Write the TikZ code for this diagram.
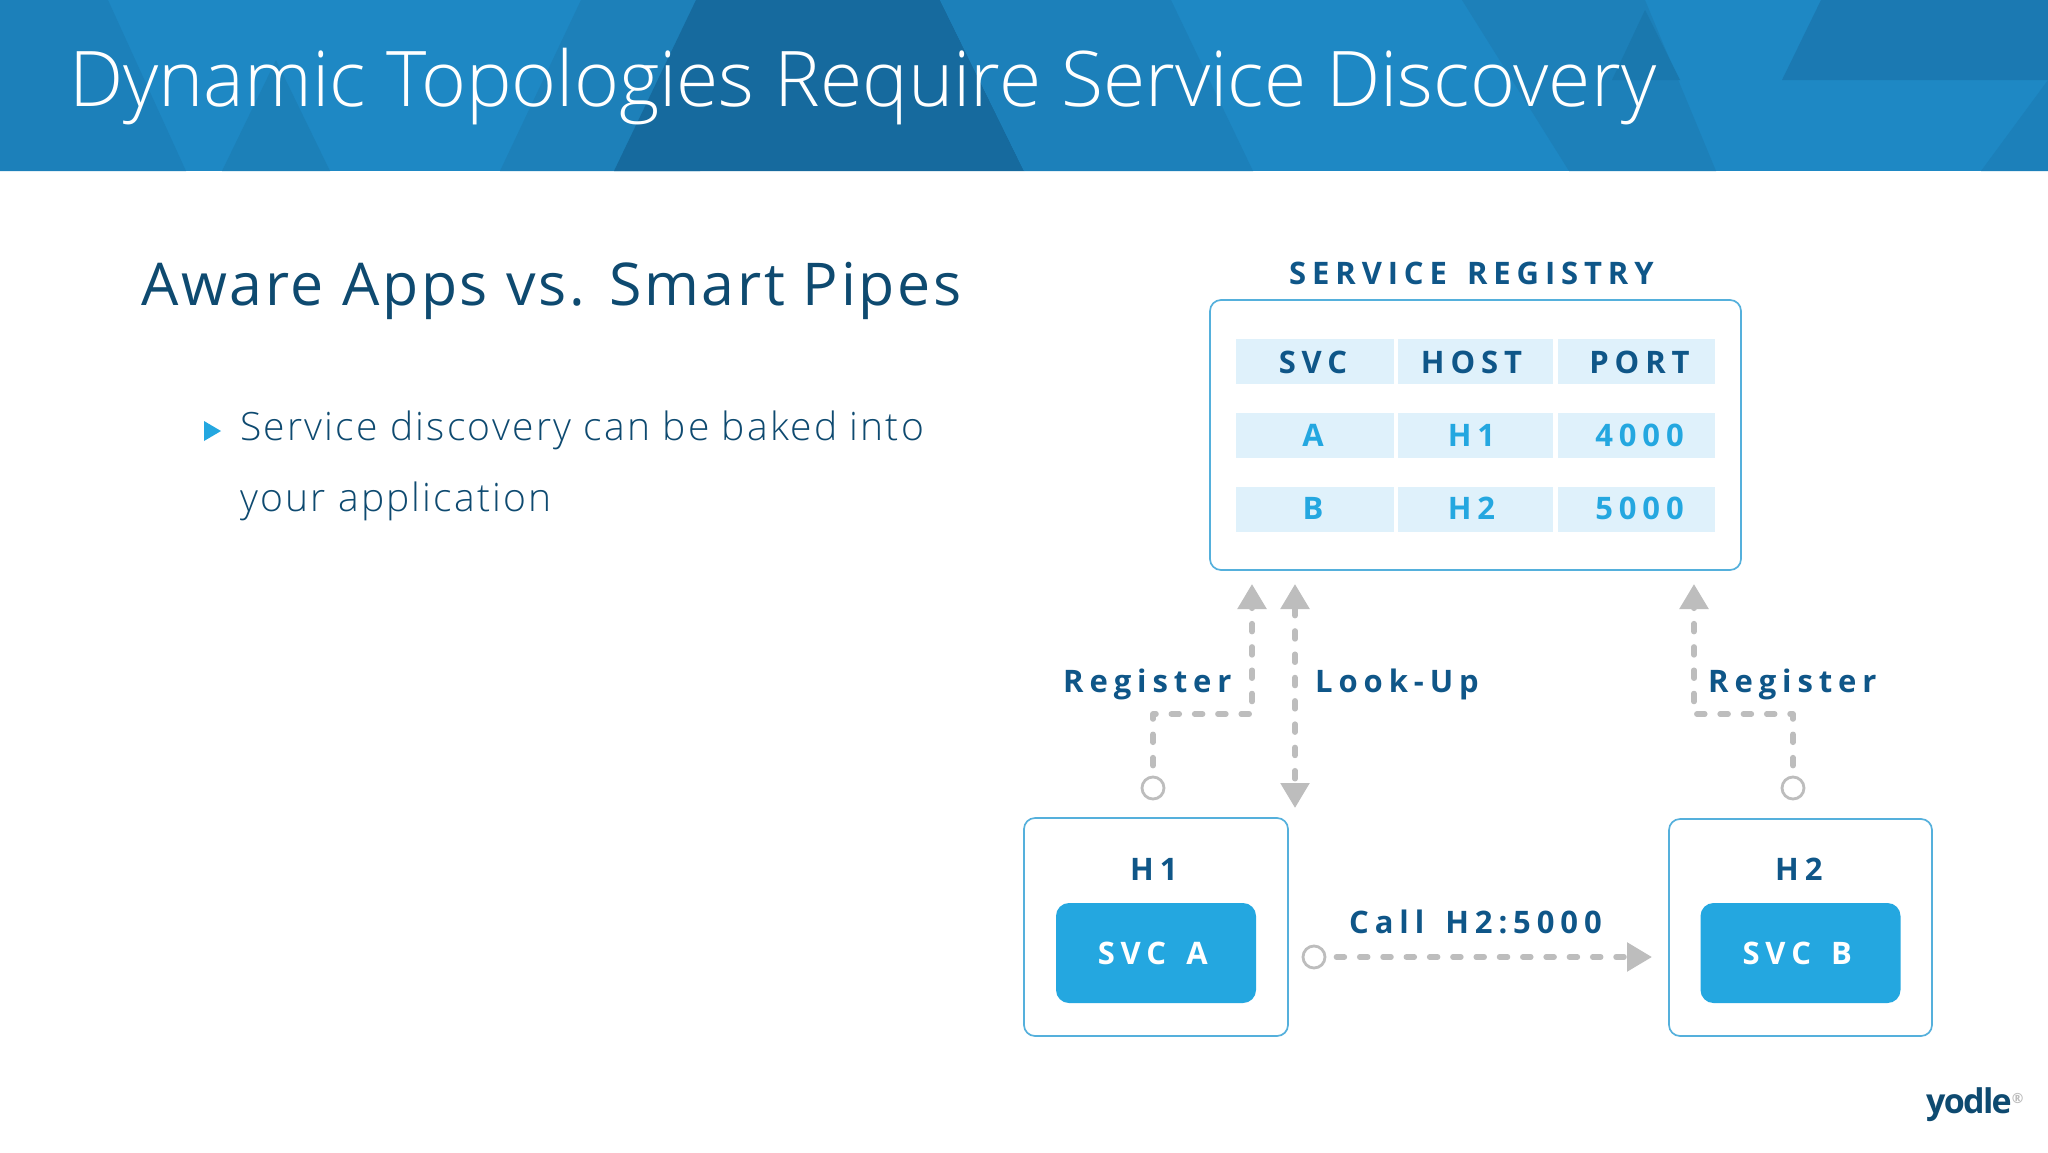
\documentclass[tikz,border=0pt]{standalone}
\usepackage{fontspec}
\usetikzlibrary{arrows.meta}
\setmainfont{Open Sans}
\newfontfamily\lightf{Open Sans Light}
\newfontfamily\lightsp[LetterSpace=5.7]{Open Sans Light}
\newfontfamily\subf[LetterSpace=4.6]{Open Sans}
\newfontfamily\lab[LetterSpace=19]{Open Sans}
\newfontfamily\logof[LetterSpace=-5]{Open Sans}
\newcommand{\fs}[1]{\fontsize{#1}{#1}\selectfont}
\definecolor{navy}{HTML}{0F5688}
\definecolor{deep}{HTML}{0E4A70}
\definecolor{sky}{HTML}{24A7E0}
\definecolor{cellc}{HTML}{DFF1FB}
\definecolor{edgec}{HTML}{55B0DC}
\definecolor{greyc}{HTML}{BDBDBD}
\definecolor{bannerc}{HTML}{1E88C4}
\definecolor{bandA}{HTML}{1C80BA}
\definecolor{bandB}{HTML}{1C80B8}
\definecolor{bandC}{HTML}{1D80B9}
\definecolor{bandD}{HTML}{166A9E}
\definecolor{bandE}{HTML}{1A78AE}
\definecolor{bandF}{HTML}{1B79B2}
\begin{document}
\begin{tikzpicture}[x=1pt,y=-1pt,
  txt/.style={inner sep=0pt,anchor=base west},
  lbl/.style={txt,font=\lab\bfseries\fs{31},text=navy},
  cell/.style={fill=cellc,inner sep=0pt,minimum height=45pt,text height=22pt,text depth=0pt,font=\lab\bfseries\fs{31}},
  head/.style={cell,text=navy},
  val/.style={cell,text=sky},
  frame/.style={draw=edgec,line width=1.7pt,fill=white,rounded corners=11pt,inner sep=0pt},
  svcbox/.style={fill=sky,rounded corners=13pt,inner sep=0pt,text=white,minimum height=100pt,minimum width=200pt,text height=22pt,text depth=0pt,font=\lab\bfseries\fs{31}},
  port/.style={circle,draw=greyc,line width=2.8pt,fill=white,inner sep=0pt,minimum size=22pt},
  link/.style={draw=greyc,line width=5.5pt,line cap=round,line join=round,dash pattern=on 8pt off 15.3pt,shorten <=10pt,-{Triangle[length=25pt,width=28pt,fill=greyc]}},
  twoway/.style={link,shorten <=0pt,{Triangle[length=25pt,width=28pt,fill=greyc]}-{Triangle[length=25pt,width=28pt,fill=greyc]}}
]
\useasboundingbox (0,0) rectangle (2048,1152);
\fill[white] (0,0) rectangle (2048,1152);
% banner
\fill[bannerc] (0,0) rectangle (2048,171);
\fill[bandA] (0,0) -- (108,0) -- (186,171) -- (0,171) -- cycle;
\fill[bandB] (222,171) -- (276,60) -- (330,171) -- cycle;
\fill[bandC] (581,0) -- (500,171) -- (700,171) -- (780,0) -- cycle;
\fill[bandD] (696,0) -- (940,0) -- (1024,171) -- (614,171) -- cycle;
\fill[bandA] (940,0) -- (1171,0) -- (1253,171) -- (1024,171) -- cycle;
\fill[bandC] (1462,0) -- (1645,0) -- (1716,171) -- (1569,171) -- cycle;
\fill[bandE] (1645,10) -- (1680,80) -- (1612,80) -- cycle;
\fill[bandF] (1821,0) -- (2048,0) -- (2048,80) -- (1782,80) -- cycle;
\fill[bandA] (2048,80) -- (2048,171) -- (1981,171) -- cycle;
\node[txt,text=white,font=\lightf\fs{76.8}] (title) at (69,106) {Dynamic Topologies Require Service Discovery};
% left text
\node[txt,text=deep,font=\subf\fs{59}] (sub) at (141,305) {Aware Apps vs. Smart Pipes};
\fill[sky] (204,421) -- (221,431) -- (204,441) -- cycle;
\node[txt,text=deep,font=\lightsp\fs{39}] (b1) at (240,440) {Service discovery can be baked into};
\node[txt,text=deep,font=\lightsp\fs{39}] (b2) at (240,511) {your application};
% registry
\node[lbl] (regtitle) at (1289,284) {SERVICE\hspace{.2em} REGISTRY};
\node[frame,minimum width=531pt,minimum height=270pt] (registry) at (1475.5,435) {};
\foreach \n/\cy/\rz/\sty/\a/\b/\c in {r1/361.5/-1pt/head/SVC/HOST/PORT,r2/435.5/0pt/val/A/H1/4000,r3/509.5/1pt/val/B/H2/5000}{
  \node[\sty,minimum width=158pt] (\n a) at (1315,\cy) {\raisebox{\rz}{\a}\kern4pt};
  \node[\sty,minimum width=155pt] (\n b) at (1475.5,\cy) {\raisebox{\rz}{\b}\kern8pt};
  \node[\sty,minimum width=157pt] (\n c) at (1636.5,\cy) {\hspace*{6pt}\raisebox{\rz}{\c}};
}
% hosts
\node[frame,minimum width=264pt,minimum height=218pt] (h1) at (1156,927) {};
\node[lbl] (h1t) at (1130,880) {H1};
\node[svcbox] (svca) at (1156,953) {SVC\hspace{0.65em}A\kern6.5pt};
\node[frame,minimum width=263pt,minimum height=217pt] (h2) at (1800.5,927.5) {};
\node[lbl] (h2t) at (1775,880) {H2};
\node[svcbox] (svcb) at (1800.5,953) {SVC\hspace{0.65em}B\kern6.5pt};
% ports
\node[port] (p1) at (1153,788) {};
\node[port] (p2) at (1793,788) {};
\node[port] (p3) at (1314,957) {};
% free ends
\coordinate (t1) at (1252,584);
\coordinate (t2) at (1295,584);
\coordinate (t3) at (1295,808);
\coordinate (t4) at (1694,584);
\coordinate (t5) at (1652,957);
\coordinate (b1c) at (1153,714);
\coordinate (b1d) at (1252,714);
\coordinate (b2c) at (1793,714);
\coordinate (b2d) at (1694,714);
% connectors
\path[link] (p1) -- (b1c) -- (b1d) -- (t1);
\path[twoway] (t2) -- (t3);
\path[link] (p2) -- (b2c) -- (b2d) -- (t4);
\path[link] (p3) -- (t5);
% labels
\node[lbl] (l1) at (1063,692) {Register};
\node[lbl] (l2) at (1315,692) {Look-Up};
\node[lbl] (l3) at (1708,692) {Register};
\node[lbl] (l4) at (1349,933) {Call\hspace{0.68em}H2:5000};
% logo
\node[txt,text=deep,font=\logof\bfseries\fs{34}] (logo) at (1926,1113) {yodle\textsuperscript{\textcolor{greyc}{\fs{14}®}}};
\end{tikzpicture}
\end{document}
